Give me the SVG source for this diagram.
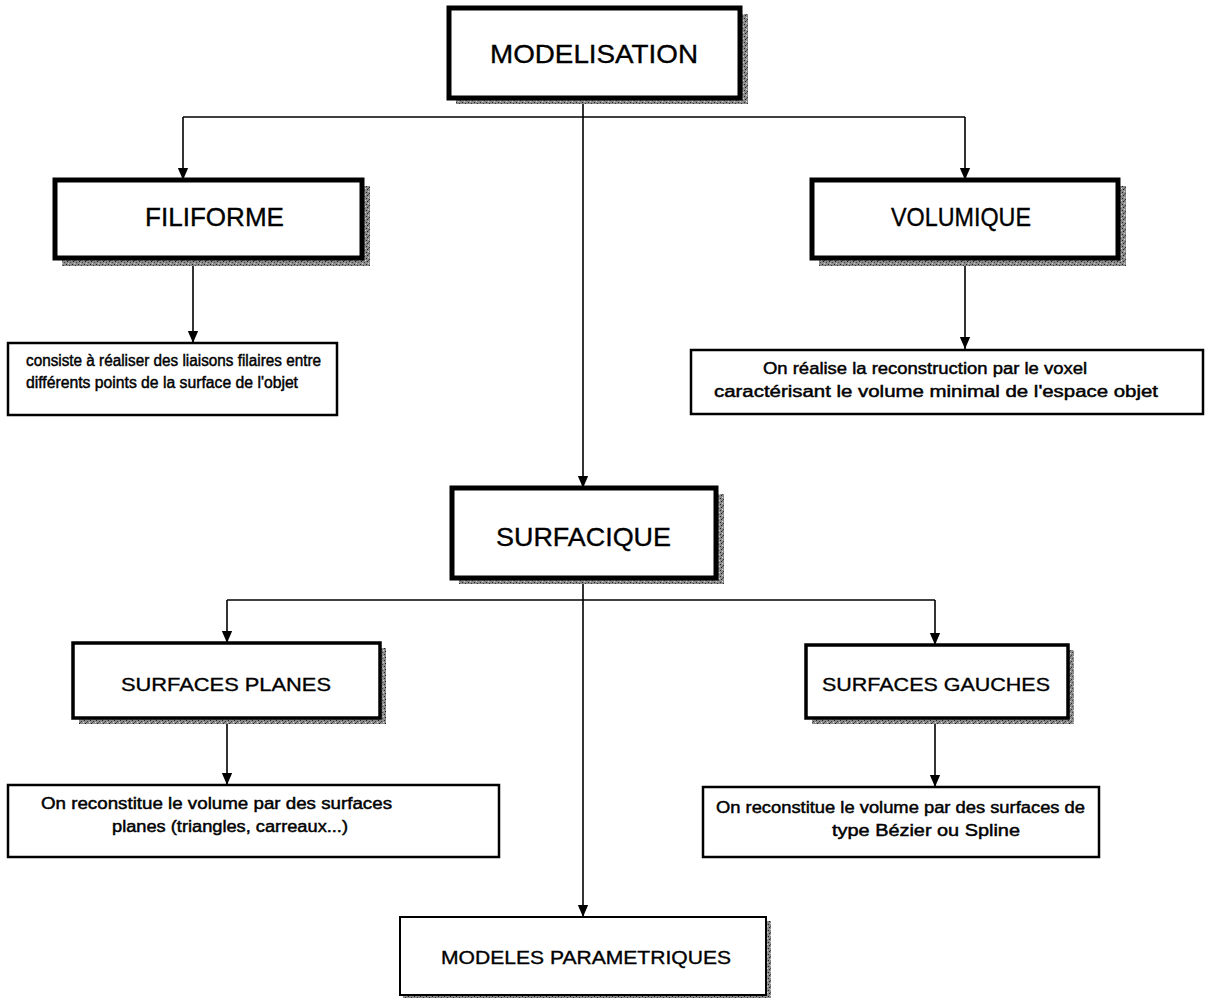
<svg xmlns="http://www.w3.org/2000/svg" width="1209" height="1000" viewBox="0 0 1209 1000">
  <defs>
    <!-- speckled grey used for the drop shadows -->
    <pattern id="grain" width="6" height="6" patternUnits="userSpaceOnUse">
      <rect width="6" height="6" fill="#8c8c8c"/>
      <rect x="0" y="0" width="1" height="1" fill="#222"/>
      <rect x="3" y="1" width="1" height="1" fill="#333"/>
      <rect x="1" y="3" width="1" height="1" fill="#1a1a1a"/>
      <rect x="4" y="4" width="1" height="1" fill="#444"/>
      <rect x="2" y="2" width="1" height="1" fill="#555"/>
      <rect x="5" y="2" width="1" height="1" fill="#d8d8d8"/>
      <rect x="2" y="5" width="1" height="1" fill="#cfcfcf"/>
    </pattern>
    <marker id="tip" markerWidth="12" markerHeight="14" refX="14" refY="6" orient="auto" markerUnits="userSpaceOnUse" viewBox="0 0 14 12">
      <path d="M0,0 L14,6 L0,12 Z" fill="#000"/>
    </marker>
  </defs>
  <style>
    .shadow { fill: url(#grain); }
    .major { fill: #fff; stroke: #000; stroke-width: 5; }
    .minor { fill: #fff; stroke: #000; stroke-width: 3.5; }
    .note  { fill: #fff; stroke: #000; stroke-width: 2.5; }
    .plain { fill: #fff; stroke: #000; stroke-width: 2; }
    .link  { fill: none; stroke: #000; stroke-width: 1.6; }
    text { font-family: "Liberation Sans", Arial, sans-serif; fill: #000; stroke: #000; stroke-width: 0.35; }
    .big  { font-size: 26px; }
    .mid  { font-size: 19px; }
    .small { font-size: 16px; stroke-width: 0.45; }
  </style>

  <rect width="1209" height="1000" fill="#fff"/>

  <!-- connectors -->
  <g id="connectors">
    <path class="link" d="M583,98 V488" marker-end="url(#tip)"/>
    <path class="link" d="M183,117 H965"/>
    <path class="link" d="M183,117 V180" marker-end="url(#tip)"/>
    <path class="link" d="M965,117 V180" marker-end="url(#tip)"/>
    <path class="link" d="M193,258 V343" marker-end="url(#tip)"/>
    <path class="link" d="M965,258 V349" marker-end="url(#tip)"/>
    <path class="link" d="M583,578 V917" marker-end="url(#tip)"/>
    <path class="link" d="M227,600 H935"/>
    <path class="link" d="M227,600 V643" marker-end="url(#tip)"/>
    <path class="link" d="M935,600 V645" marker-end="url(#tip)"/>
    <path class="link" d="M227,718 V785" marker-end="url(#tip)"/>
    <path class="link" d="M935,718 V787" marker-end="url(#tip)"/>
  </g>

  <g id="modelisation">
    <rect class="shadow" x="456" y="14" width="292" height="90"/>
    <rect class="major" x="449" y="8" width="291" height="90"/>
    <text class="big" x="490" y="63" textLength="208" lengthAdjust="spacingAndGlyphs">MODELISATION</text>
  </g>

  <g id="filiforme">
    <rect class="shadow" x="62" y="186" width="308" height="80"/>
    <rect class="major" x="55" y="180" width="307" height="78"/>
    <text class="big" x="145" y="226" textLength="139" lengthAdjust="spacingAndGlyphs">FILIFORME</text>
  </g>

  <g id="volumique">
    <rect class="shadow" x="819" y="186" width="307" height="80"/>
    <rect class="major" x="812" y="180" width="306" height="78"/>
    <text class="big" x="891" y="226" textLength="140" lengthAdjust="spacingAndGlyphs">VOLUMIQUE</text>
  </g>

  <g id="filiforme-note">
    <rect class="note" x="8" y="343" width="329" height="72"/>
    <text class="small" x="26" y="366" textLength="295" lengthAdjust="spacingAndGlyphs">consiste à réaliser des liaisons filaires entre</text>
    <text class="small" x="26" y="388" textLength="272" lengthAdjust="spacingAndGlyphs">différents points de la surface de l'objet</text>
  </g>

  <g id="volumique-note">
    <rect class="note" x="691" y="350" width="512" height="64"/>
    <text class="small" x="763" y="374" textLength="324" lengthAdjust="spacingAndGlyphs">On réalise la reconstruction par le voxel</text>
    <text class="small" x="714" y="397" textLength="444" lengthAdjust="spacingAndGlyphs">caractérisant le volume minimal de l'espace objet</text>
  </g>

  <g id="surfacique">
    <rect class="shadow" x="459" y="494" width="265" height="90"/>
    <rect class="major" x="452" y="488" width="264" height="90"/>
    <text class="big" x="496" y="546" textLength="175" lengthAdjust="spacingAndGlyphs">SURFACIQUE</text>
  </g>

  <g id="surfaces-planes">
    <rect class="shadow" x="79" y="648" width="307" height="76"/>
    <rect class="minor" x="73" y="643" width="307" height="75"/>
    <text class="mid" x="121" y="691" textLength="210" lengthAdjust="spacingAndGlyphs">SURFACES PLANES</text>
  </g>

  <g id="surfaces-gauches">
    <rect class="shadow" x="812" y="650" width="262" height="74"/>
    <rect class="minor" x="806" y="645" width="262" height="73"/>
    <text class="mid" x="822" y="691" textLength="228" lengthAdjust="spacingAndGlyphs">SURFACES GAUCHES</text>
  </g>

  <g id="planes-note">
    <rect class="note" x="8" y="785" width="491" height="72"/>
    <text class="small" x="41" y="809" textLength="351" lengthAdjust="spacingAndGlyphs">On reconstitue le volume par des surfaces</text>
    <text class="small" x="112" y="832" textLength="236" lengthAdjust="spacingAndGlyphs">planes (triangles, carreaux...)</text>
  </g>

  <g id="gauches-note">
    <rect class="note" x="703" y="787" width="396" height="70"/>
    <text class="small" x="716" y="813" textLength="369" lengthAdjust="spacingAndGlyphs">On reconstitue le volume par des surfaces de</text>
    <text class="small" x="832" y="836" textLength="188" lengthAdjust="spacingAndGlyphs">type Bézier ou Spline</text>
  </g>

  <g id="modeles-parametriques">
    <rect class="shadow" x="403" y="921" width="368" height="77"/>
    <rect class="plain" x="400" y="917" width="366" height="78"/>
    <text class="mid" x="441" y="964" textLength="290" lengthAdjust="spacingAndGlyphs">MODELES PARAMETRIQUES</text>
  </g>
</svg>
